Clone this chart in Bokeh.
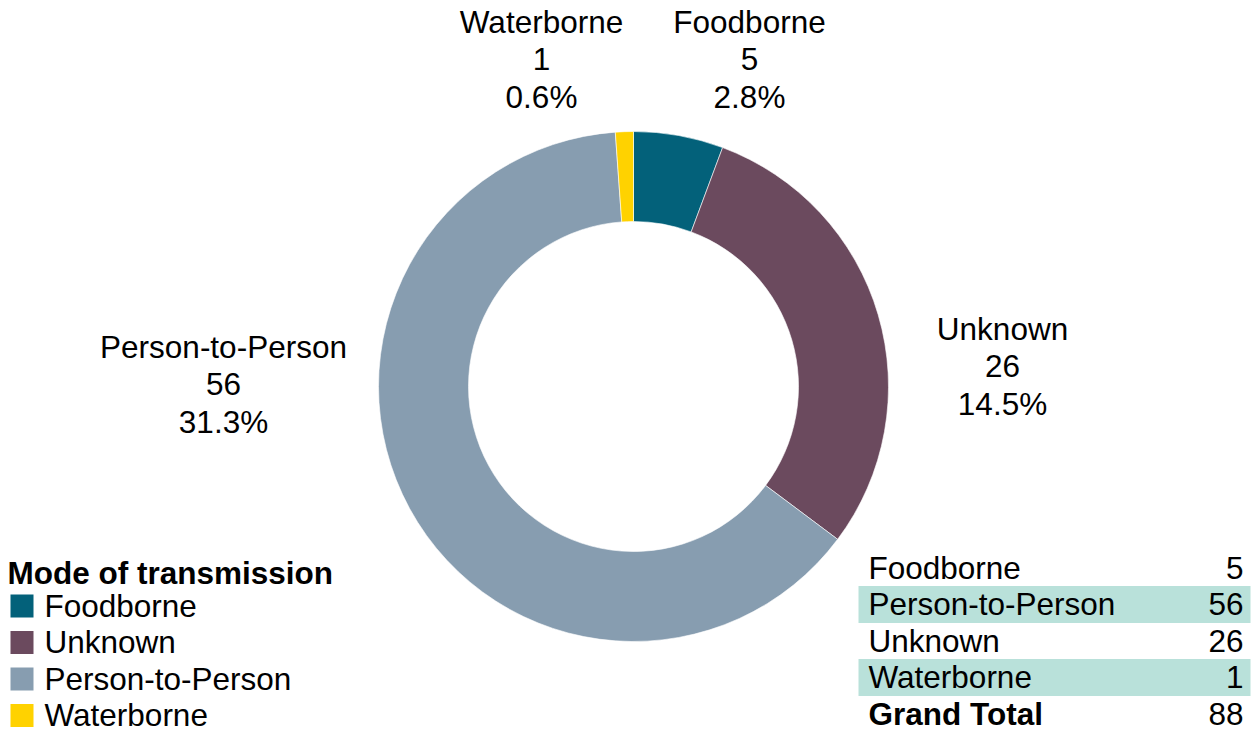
import math
from bokeh.plotting import figure
from bokeh.models import Range1d, ColumnDataSource
from bokeh.core.properties import value
from bokeh.embed import file_html
from bokeh.resources import INLINE

# ---- data ----
categories = ["Foodborne", "Unknown", "Person-to-Person", "Waterborne"]
counts = [5, 26, 56, 1]
percents = ["2.8%", "14.5%", "31.3%", "0.6%"]
colors = ["#03617A", "#6B4A5E", "#879DB0", "#FFD200"]
table_categories = ["Foodborne", "Person-to-Person", "Unknown", "Waterborne"]
table_counts = [5, 56, 26, 1]
grand_total_label = "Grand Total"
legend_title = "Mode of transmission"

W, H = 1251, 732
FONT = "Liberation Sans"
FS = "31.5px"

def Y(py):
    return H - py

p = figure(width=W, height=H, x_range=Range1d(0, W), y_range=Range1d(0, H),
           output_backend="svg", toolbar_location=None, min_border=0)
p.axis.visible = False
p.grid.visible = False
p.outline_line_color = None
p.background_fill_color = "white"

# ---- donut ----
total = sum(counts)
cx, cy = 633, Y(386)
starts, ends = [], []
cum = 0
for c in counts:
    starts.append(math.pi / 2 - cum / total * 2 * math.pi)
    cum += c
    ends.append(math.pi / 2 - cum / total * 2 * math.pi)
src = ColumnDataSource(dict(start=starts, end=ends, color=colors))
p.annular_wedge(x=cx, y=cy, inner_radius=165, outer_radius=255,
                start_angle="start", end_angle="end", direction="clock",
                fill_color="color", line_color="white", line_width=0.6, source=src)

# ---- slice labels ----
label_pos = {"Foodborne": (749, 21), "Unknown": (1002, 328),
             "Person-to-Person": (223, 346), "Waterborne": (541, 21)}
lx, ly, lt = [], [], []
for cat, n, pc in zip(categories, counts, percents):
    x0, y0 = label_pos[cat]
    for i, t in enumerate([cat, str(n), pc]):
        lx.append(x0)
        ly.append(Y(y0 + i * 37.5))
        lt.append(t)
p.text(x=lx, y=ly, text=lt, text_align="center", text_baseline="middle",
       text_font=value(FONT), text_font_size=FS, text_color="black")

# ---- legend ----
p.text(x=[7], y=[Y(572)], text=[legend_title], text_align="left", text_baseline="middle",
       text_font=value(FONT), text_font_size=FS, text_font_style="bold", text_color="black")
leg_y = [Y(605 + i * 36.5) for i in range(len(categories))]
p.rect(x=[21.5] * len(categories), y=[v - 0.5 for v in leg_y], width=23, height=23,
       fill_color=colors, line_color=None)
p.text(x=[44] * len(categories), y=leg_y, text=categories, text_align="left",
       text_baseline="middle", text_font=value(FONT), text_font_size=FS, text_color="black")

# ---- table ----
row_y = [Y(567 + i * 36.5) for i in range(len(table_categories) + 1)]
band_idx = [1, 3]
p.rect(x=[(858 + 1250) / 2] * len(band_idx), y=[row_y[i] - 0.5 for i in band_idx],
       width=392, height=37, fill_color="#B9E1DA", line_color=None)
p.text(x=[868] * len(table_categories), y=row_y[:-1], text=table_categories,
       text_align="left", text_baseline="middle", text_font=value(FONT),
       text_font_size=FS, text_color="black")
p.text(x=[1243] * len(table_counts), y=row_y[:-1], text=[str(v) for v in table_counts],
       text_align="right", text_baseline="middle", text_font=value(FONT),
       text_font_size=FS, text_color="black")
p.text(x=[868], y=[row_y[-1]], text=[grand_total_label], text_align="left",
       text_baseline="middle", text_font=value(FONT), text_font_size=FS,
       text_font_style="bold", text_color="black")
p.text(x=[1243], y=[row_y[-1]], text=[str(sum(table_counts))], text_align="right",
       text_baseline="middle", text_font=value(FONT), text_font_size=FS, text_color="black")

open("out.html", "w").write(file_html(p, INLINE))
